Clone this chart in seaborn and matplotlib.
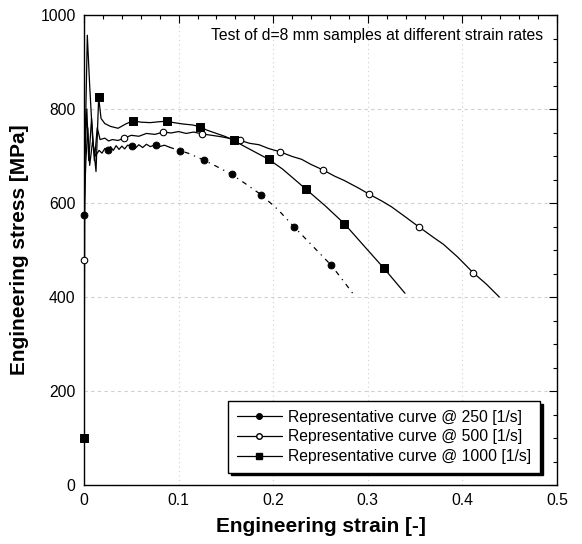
import matplotlib
matplotlib.use("Agg")
import matplotlib.pyplot as plt
from matplotlib.lines import Line2D
from matplotlib.ticker import MultipleLocator
import seaborn as sns

# ---------------- data ----------------
# 250 [1/s] curve (solid plateau part, then broken part)
s250_a_x = [0, 0, 0.002, 0.004, 0.006, 0.009, 0.012, 0.016, 0.019, 0.022, 0.025, 0.028, 0.031,
            0.034, 0.037, 0.040, 0.043, 0.046, 0.0504, 0.054, 0.058, 0.062, 0.066, 0.070, 0.0758,
            0.080, 0.085, 0.090]
s250_a_y = [0, 574, 690, 760, 680, 730, 700, 712, 706, 716, 713, 720, 712, 722, 714, 721, 715,
            723, 722, 716, 724, 718, 725, 720, 724, 720, 723, 719]
s250_b_x = [0.090, 0.1015, 0.11, 0.127, 0.14, 0.156, 0.17, 0.187, 0.205, 0.2217, 0.24, 0.2611,
            0.272, 0.284]
s250_b_y = [719, 711, 706, 691, 678, 661, 642, 618, 586, 550, 512, 468, 440, 408]
m250_x = [0, 0.025, 0.0504, 0.0758, 0.1015, 0.127, 0.156, 0.187, 0.2217, 0.2611]
m250_y = [574, 713, 722, 724, 711, 691, 661, 618, 550, 468]

# 500 [1/s]
s500_x = [0, 0, 0.001, 0.003, 0.005, 0.008, 0.011, 0.014, 0.017, 0.022, 0.026, 0.030, 0.036,
          0.0423, 0.05, 0.058, 0.066, 0.075, 0.0838, 0.092, 0.10, 0.108, 0.116, 0.1247, 0.135,
          0.145, 0.155, 0.1653, 0.175, 0.185, 0.195, 0.2072, 0.22, 0.23, 0.24, 0.253, 0.265,
          0.275, 0.29, 0.3013, 0.315, 0.325, 0.34, 0.3541, 0.37, 0.38, 0.395, 0.4112, 0.425, 0.439]
s500_y = [0, 479, 700, 800, 690, 780, 690, 760, 735, 738, 732, 735, 733, 738, 744, 742, 748,
          746, 751, 749, 752, 748, 751, 747, 744, 741, 737, 733, 727, 724, 716, 709, 699, 693,
          682, 670, 657, 648, 632, 619, 604, 592, 570, 549, 526, 512, 485, 452, 428, 400]
m500_x = [0, 0.0423, 0.0838, 0.1247, 0.1653, 0.2072, 0.253, 0.3013, 0.3541, 0.4112]
m500_y = [479, 738, 751, 747, 733, 709, 670, 619, 549, 452]

# 1000 [1/s]
s1000_x = [0, 0, 0.001, 0.0035, 0.006, 0.009, 0.0127, 0.0155, 0.018, 0.022, 0.028, 0.036, 0.044,
           0.0518, 0.06, 0.07, 0.08, 0.0877, 0.095, 0.105, 0.115, 0.1226, 0.13, 0.14, 0.15,
           0.1582, 0.17, 0.1952, 0.21, 0.2343, 0.255, 0.2752, 0.295, 0.3171, 0.3393]
s1000_y = [0, 99, 700, 957, 850, 740, 667, 825, 780, 769, 763, 759, 768, 775, 772, 771, 773, 774,
           771, 768, 766, 762, 755, 748, 741, 733, 720, 693, 672, 630, 594, 556, 511, 461, 408]
m1000_x = [0, 0.0155, 0.0518, 0.0877, 0.1226, 0.1582, 0.1952, 0.2343, 0.2752, 0.3171]
m1000_y = [99, 825, 775, 774, 762, 733, 693, 630, 556, 461]

labels = ["Representative curve @ 250 [1/s]",
          "Representative curve @ 500 [1/s]",
          "Representative curve @ 1000 [1/s]"]
title_text = "Test of d=8 mm samples at different strain rates"
xticks = [0, 0.1, 0.2, 0.3, 0.4, 0.5]
xticklabels = ["0", "0.1", "0.2", "0.3", "0.4", "0.5"]
yticks = [0, 200, 400, 600, 800, 1000]

# ---------------- style ----------------
sns.set_theme(style="white")
plt.rcParams["font.family"] = ["Liberation Sans", "DejaVu Sans"]
plt.rcParams["axes.edgecolor"] = "black"
plt.rcParams["text.color"] = "black"
plt.rcParams["axes.labelcolor"] = "black"
plt.rcParams["xtick.color"] = "black"
plt.rcParams["ytick.color"] = "black"

fig = plt.figure(figsize=(5.82, 5.44), dpi=100)
ax = fig.add_axes([84 / 582, 1 - 485 / 544, (557 - 84) / 582, (485 - 15) / 544])

lw = 0.9
def line(x, y, **kw):
    sns.lineplot(x=x, y=y, sort=False, estimator=None, ax=ax, color="black",
                 linewidth=lw, legend=False, **kw)

line(s250_a_x, s250_a_y)
line(s250_b_x, s250_b_y, linestyle=(0, (4, 4, 1, 4)))
line(s500_x, s500_y)
line(s1000_x, s1000_y)

sns.scatterplot(x=m250_x, y=m250_y, ax=ax, marker="o", s=24, color="black",
                edgecolor="black", linewidth=0.7, zorder=5, legend=False, clip_on=False)
sns.scatterplot(x=m500_x, y=m500_y, ax=ax, marker="o", s=22, color="white",
                edgecolor="black", linewidth=0.8, zorder=5, legend=False, clip_on=False)
sns.scatterplot(x=m1000_x, y=m1000_y, ax=ax, marker="s", s=26, color="black",
                edgecolor="black", linewidth=0.7, zorder=5, legend=False, clip_on=False)

ax.set_xlim(0, 0.5)
ax.set_ylim(0, 1000)
ax.set_xticks(xticks)
ax.set_xticklabels(xticklabels)
ax.set_yticks(yticks)
ax.xaxis.set_minor_locator(MultipleLocator(0.02))
ax.yaxis.set_minor_locator(MultipleLocator(50))
ax.tick_params(which="both", direction="in", top=True, right=True, colors="black",
               labelsize=11.3, pad=6)
ax.tick_params(which="major", length=6, width=0.8)
ax.tick_params(which="minor", length=3, width=0.8)
for sp in ax.spines.values():
    sp.set_linewidth(1.0)
    sp.set_color("black")

ax.xaxis.grid(True, which="major", linestyle=(0, (1, 3)), color="#cfcfcf", linewidth=0.8)
ax.yaxis.grid(True, which="major", linestyle=(0, (3, 3)), color="#cfcfcf", linewidth=0.8)
ax.set_axisbelow(True)

ax.set_xlabel("Engineering strain [-]", fontsize=15, fontweight="bold", labelpad=6)
ax.set_ylabel("Engineering stress [MPa]", fontsize=15, fontweight="bold", labelpad=8)

ax.text(0.970, 0.957, title_text, transform=ax.transAxes, ha="right", va="center",
        fontsize=11.3)

handles = [
    Line2D([], [], color="black", lw=lw, marker="o", markersize=4, markerfacecolor="black"),
    Line2D([], [], color="black", lw=lw, marker="o", markersize=4, markerfacecolor="white"),
    Line2D([], [], color="black", lw=lw, marker="s", markersize=4, markerfacecolor="black"),
]
leg = ax.legend(handles, labels, loc="upper left", bbox_to_anchor=(0.3044, 0.1787),
                fontsize=11.3, frameon=True, fancybox=False, framealpha=1,
                edgecolor="black", borderpad=0.55, labelspacing=0.3, handlelength=2.9,
                handletextpad=0.4, borderaxespad=0,
                shadow={"color": "black", "alpha": 1, "ox": 2, "oy": -2})
leg.get_frame().set_linewidth(1.0)

fig.savefig("out.png", dpi=100)
